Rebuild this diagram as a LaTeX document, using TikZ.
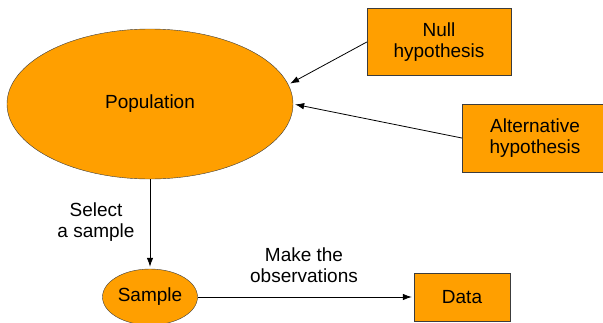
\documentclass[tikz,border=0pt]{standalone}
\usepackage{fontspec}
\setmainfont{Liberation Sans}
\usetikzlibrary{shapes.geometric,arrows.meta}
\definecolor{boxorange}{RGB}{255,159,0}
\definecolor{edgegray}{RGB}{60,60,60}

\begin{document}
\begin{tikzpicture}[x=1pt,y=-1pt,
  font=\fontsize{19}{21}\selectfont,
  blob/.style={ellipse,draw=edgegray,fill=boxorange,inner sep=0pt},
  card/.style={rectangle,draw=edgegray,fill=boxorange,align=center,inner sep=0pt},
  link/.style={-{Latex[length=9pt,width=6.5pt]},line width=0.8pt,shorten >=2pt}]
\useasboundingbox (0,0) rectangle (603,322);
\node [blob,minimum width=286pt,minimum height=150pt] (pop) at (150,104) {Population};
\node [card,minimum width=144pt,minimum height=67pt] (null) at (439,42) {Null\\hypothesis};
\node [card,minimum width=146pt,minimum height=68pt] (alt) at (535,138) {Alternative\\hypothesis};
\node [blob,minimum width=95pt,minimum height=56pt] (sample) at (150,297) {Sample};
\node [card,minimum width=96pt,minimum height=48pt] (data) at (462,297) {Data};
\node [align=center] (sel) at (96,222) {Select\\a sample};
\node [align=center] (obs) at (304,265) {Make the\\observations};
\draw [link] (null.west) -- (pop.8);
\draw [link] (alt.west) -- (pop.east);
\draw [link] (pop.south) -- (sample.north);
\draw [link] (sample.east) -- (data.west);
\end{tikzpicture}
\end{document}
